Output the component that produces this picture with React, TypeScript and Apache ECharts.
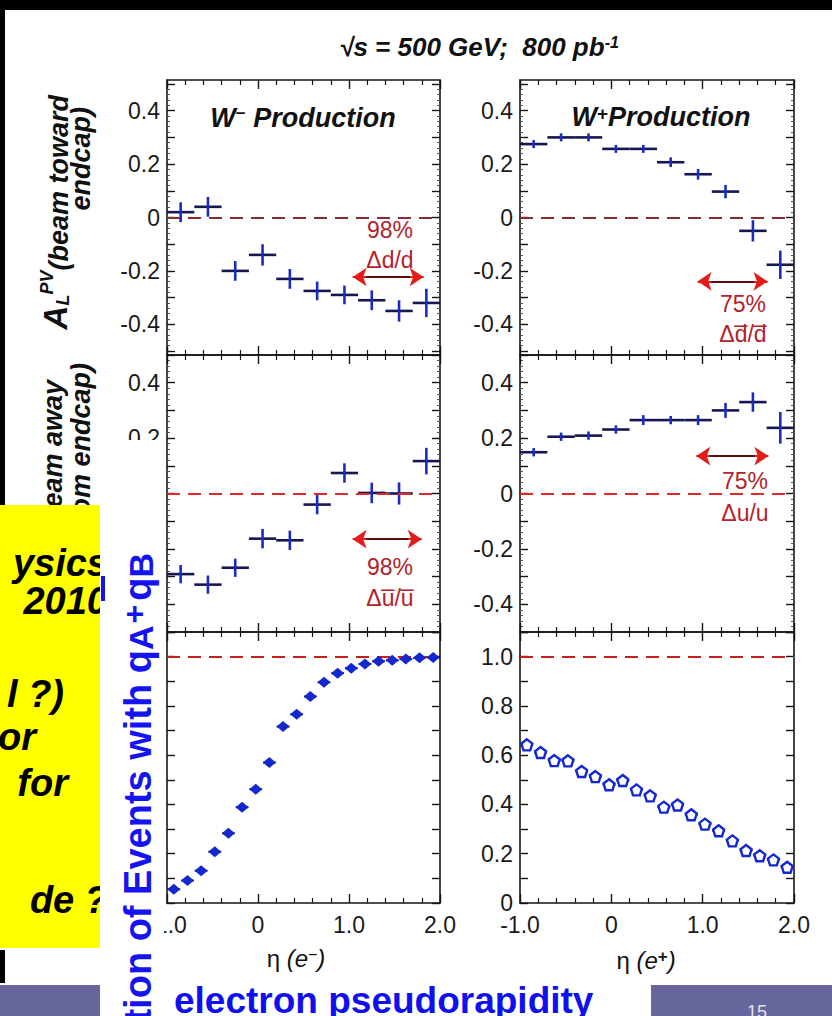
import { useEffect, useRef } from 'react';
import * as echarts from 'echarts';

// ---------- data ----------
const etaCoarse = [-0.85, -0.55, -0.25, 0.05, 0.35, 0.65, 0.95, 1.25, 1.55, 1.85];
const coarseHalfWidth = 0.15;

const wMinusToward = [0.02, 0.04, -0.2, -0.14, -0.23, -0.275, -0.29, -0.31, -0.35, -0.32];
const wMinusTowardErr = [0.037, 0.037, 0.037, 0.04, 0.037, 0.035, 0.035, 0.037, 0.04, 0.053];
const wPlusToward = [0.275, 0.3, 0.3, 0.257, 0.257, 0.207, 0.162, 0.097, -0.05, -0.177];
const wPlusTowardErr = [0.015, 0.015, 0.015, 0.015, 0.015, 0.018, 0.02, 0.025, 0.04, 0.053];

const wMinusAway = [-0.291, -0.329, -0.268, -0.163, -0.169, -0.04, 0.074, 0.002, 0.0, 0.117];
const wMinusAwayErr = [0.033, 0.033, 0.033, 0.035, 0.035, 0.035, 0.035, 0.037, 0.04, 0.048];
const wPlusAway = [0.149, 0.205, 0.209, 0.231, 0.265, 0.265, 0.265, 0.3, 0.33, 0.237];
const wPlusAwayErr = [0.015, 0.015, 0.015, 0.015, 0.018, 0.015, 0.018, 0.027, 0.035, 0.057];

const etaFine = [-0.925, -0.775, -0.625, -0.475, -0.325, -0.175, -0.025, 0.125, 0.275, 0.425,
  0.575, 0.725, 0.875, 1.025, 1.175, 1.325, 1.475, 1.625, 1.775, 1.925];
const fineHalfWidth = 0.07;
const fracWMinus = [0.056, 0.091, 0.131, 0.208, 0.283, 0.389, 0.462, 0.57, 0.716, 0.766,
  0.838, 0.896, 0.933, 0.953, 0.97, 0.981, 0.985, 0.99, 0.995, 0.997];
const fracWPlus = [0.642, 0.611, 0.578, 0.577, 0.534, 0.513, 0.48, 0.497, 0.459, 0.435,
  0.389, 0.398, 0.358, 0.32, 0.293, 0.252, 0.213, 0.192, 0.175, 0.145];

// ---------- ticks / labels ----------
const etaTicks = [-1, 0, 1, 2];
const etaMinorTicks = [-0.8, -0.6, -0.4, -0.2, 0.2, 0.4, 0.6, 0.8, 1.2, 1.4, 1.6, 1.8];
const asymTicks = [-0.5, -0.4, -0.3, -0.2, -0.1, 0, 0.1, 0.2, 0.3, 0.4, 0.5];
const asymLabels = [-0.4, -0.2, 0, 0.2, 0.4];
const fracTicks = [0, 0.1, 0.2, 0.3, 0.4, 0.5, 0.6, 0.7, 0.8, 0.9, 1.0, 1.1];
const fracLabels = [0, 0.2, 0.4, 0.6, 0.8, 1.0];
const asymMinorTicks: number[] = [];
for (let k = -25; k <= 25; k++) if (k % 5 !== 0) asymMinorTicks.push(k * 0.02);

const FONT = "'Liberation Sans', Arial, Helvetica, sans-serif";
const AX = '#151515';
const fmt = (v: number) => (Math.abs(v) < 1e-9 ? '0' : v.toFixed(1));

const crossData = (values: number[], errs: number[]) =>
  etaCoarse.map((x, i) => [x, values[i], x - coarseHalfWidth, x + coarseHalfWidth, values[i] - errs[i], values[i] + errs[i]]);
const barData = (values: number[]) =>
  etaFine.map((x, i) => [x, values[i], x - fineHalfWidth, x + fineHalfWidth, values[i], values[i]]);

const renderCross = (hColor: string, vColor: string, lw: number) => (_p: any, api: any) => {
  const x = api.value(0);
  const y = api.value(1);
  const L = api.coord([api.value(2), y]);
  const R = api.coord([api.value(3), y]);
  const T = api.coord([x, api.value(5)]);
  const B = api.coord([x, api.value(4)]);
  const children: any[] = [
    { type: 'line', shape: { x1: L[0], y1: L[1], x2: R[0], y2: R[1] }, style: { stroke: hColor, lineWidth: lw } },
  ];
  if (Math.abs(T[1] - B[1]) > 0.5) {
    children.push({ type: 'line', shape: { x1: T[0], y1: T[1], x2: B[0], y2: B[1] }, style: { stroke: vColor, lineWidth: lw } });
  }
  return { type: 'group', children };
};

function buildOption() {
  const panels = [
    { left: 167, top: 80, width: 273, height: 275, yMin: -0.515, yMax: 0.515, yTicks: asymTicks, yLabels: asymLabels, yMinor: asymMinorTicks, xLabels: false },
    { left: 520, top: 80, width: 274, height: 275, yMin: -0.515, yMax: 0.515, yTicks: asymTicks, yLabels: asymLabels, yMinor: asymMinorTicks, xLabels: false },
    { left: 167, top: 355, width: 273, height: 277, yMin: -0.5, yMax: 0.5, yTicks: asymTicks, yLabels: asymLabels, yMinor: asymMinorTicks, xLabels: false },
    { left: 520, top: 355, width: 274, height: 277, yMin: -0.5, yMax: 0.5, yTicks: asymTicks, yLabels: asymLabels, yMinor: asymMinorTicks, xLabels: false },
    { left: 167, top: 632, width: 273, height: 271, yMin: 0, yMax: 1.1, yTicks: fracTicks, yLabels: fracLabels, yMinor: [] as number[], xLabels: true },
    { left: 520, top: 632, width: 274, height: 271, yMin: 0, yMax: 1.1, yTicks: fracTicks, yLabels: fracLabels, yMinor: [] as number[], xLabels: true },
  ];
  const grid = panels.map((p) => ({ left: p.left, top: p.top, width: p.width, height: p.height, containLabel: false }));
  const labelStyle = { fontSize: 23, color: '#1a1a1a', fontFamily: FONT };
  const xAxis: any[] = [];
  const yAxis: any[] = [];
  panels.forEach((p, g) => {
    const bx = { type: 'value', gridIndex: g, min: -1, max: 2, splitLine: { show: false } };
    const line = { show: true, onZero: false, lineStyle: { color: AX, width: 1.6 } };
    const noLine = { show: false, onZero: false };
    for (const pos of ['bottom', 'top']) {
      xAxis.push({
        ...bx, position: pos, axisLine: line,
        axisTick: { show: true, inside: true, length: 9, customValues: etaTicks, lineStyle: { color: AX, width: 1.4 } },
        axisLabel: pos === 'bottom' && p.xLabels
          ? { show: true, customValues: etaTicks, formatter: fmt, margin: 10, ...labelStyle }
          : { show: false },
      });
      xAxis.push({
        ...bx, position: pos, axisLine: noLine,
        axisTick: { show: true, inside: true, length: 5, customValues: etaMinorTicks, lineStyle: { color: AX, width: 1.2 } },
        axisLabel: { show: false },
      });
    }
    const by = { type: 'value', gridIndex: g, min: p.yMin, max: p.yMax, splitLine: { show: false } };
    for (const pos of ['left', 'right']) {
      yAxis.push({
        ...by, position: pos, axisLine: line,
        axisTick: { show: true, inside: true, length: 8, customValues: p.yTicks, lineStyle: { color: AX, width: 1.4 } },
        axisLabel: pos === 'left'
          ? { show: true, customValues: p.yLabels, formatter: fmt, margin: 7, ...labelStyle }
          : { show: false },
      });
      yAxis.push({
        ...by, position: pos, axisLine: noLine,
        axisTick: { show: p.yMinor.length > 0, inside: true, length: 3, customValues: p.yMinor.length ? p.yMinor : [0], lineStyle: { color: '#555', width: 1 } },
        axisLabel: { show: false },
      });
    }
  });

  const dashed = (y: number, color: string) => ({
    silent: true, symbol: ['none', 'none'], label: { show: false },
    lineStyle: { type: [13, 8], color, width: 2 }, data: [{ yAxis: y }],
  });
  const arrow = (g: number, x1: number, x2: number, y: number) => ({
    type: 'line', xAxisIndex: 4 * g, yAxisIndex: 4 * g, data: [], silent: true,
    markLine: {
      silent: true, label: { show: false }, symbol: ['arrow', 'arrow'], symbolSize: 14,
      lineStyle: { type: 'solid', color: '#e41b1b', width: 2 },
      data: [
        [{ coord: [x1, y] }, { coord: [x2, y] }],
        [{ coord: [x1 + 0.15, y], symbol: 'none', lineStyle: { color: '#2a0808', width: 1.6, type: 'solid' } }, { coord: [x2 - 0.15, y], symbol: 'none' }],
      ],
    },
  });
  const cross = (g: number, values: number[], errs: number[], dashColor: string) => ({
    type: 'custom', xAxisIndex: 4 * g, yAxisIndex: 4 * g, clip: true,
    encode: { x: [0, 2, 3], y: [1, 4, 5] },
    renderItem: renderCross('#161650', '#1a2cc0', 2.6),
    data: crossData(values, errs),
    markLine: dashed(0, dashColor),
  });
  const fineBars = (g: number, values: number[]) => ({
    type: 'custom', xAxisIndex: 4 * g, yAxisIndex: 4 * g, clip: true,
    encode: { x: [0, 2, 3], y: [1, 4, 5] },
    renderItem: renderCross('#18184a', '#18184a', 2),
    data: barData(values),
    markLine: dashed(1, '#c81e1e'),
  });

  const series: any[] = [
    cross(0, wMinusToward, wMinusTowardErr, '#8a2a32'),
    cross(1, wPlusToward, wPlusTowardErr, '#8a2a32'),
    cross(2, wMinusAway, wMinusAwayErr, '#e02828'),
    cross(3, wPlusAway, wPlusAwayErr, '#e02828'),
    fineBars(4, fracWMinus),
    fineBars(5, fracWPlus),
    {
      type: 'scatter', xAxisIndex: 16, yAxisIndex: 16, z: 5, symbol: 'diamond', symbolSize: [13, 11],
      itemStyle: { color: '#1428d0', opacity: 1 }, data: etaFine.map((x, i) => [x, fracWMinus[i]]),
    },
    {
      type: 'scatter', xAxisIndex: 20, yAxisIndex: 20, z: 5,
      symbol: 'path://M0,-1 L0.951,-0.309 L0.588,0.809 L-0.588,0.809 L-0.951,-0.309 Z', symbolSize: 11,
      itemStyle: { color: '#ffffff', borderColor: '#1428d0', borderWidth: 2.4, opacity: 1 },
      data: etaFine.map((x, i) => [x, fracWPlus[i]]),
    },
    arrow(0, 1.04, 1.82, -0.223),
    arrow(1, 0.945, 1.71, -0.239),
    arrow(2, 1.04, 1.8, -0.165),
    arrow(3, 0.93, 1.72, 0.135),
  ];

  const annoStyle = { fontSize: 23, fill: '#b3222a', fontFamily: FONT, align: 'center', verticalAlign: 'middle' };
  const annotations = [
    { x: 390, y: 230, t: '98%' }, { x: 390, y: 260, t: 'Δd/d' },
    { x: 743, y: 304, t: '75%' }, { x: 743, y: 334, t: 'Δd\u0305/d\u0305' },
    { x: 390, y: 567, t: '98%' }, { x: 390, y: 598, t: 'Δu\u0305/u\u0305' },
    { x: 745, y: 481, t: '75%' }, { x: 745, y: 513, t: 'Δu/u' },
  ];
  const boldItalic = { fontWeight: 'bold', fontStyle: 'italic', fontFamily: FONT, fill: '#111' };
  const bi = { fontWeight: 'bold', fontStyle: 'italic', fontFamily: FONT, fill: '#111' };
  const rowTitleRich = {
    a: { fontSize: 33, ...bi, verticalAlign: 'bottom', lineHeight: 34 },
    l: { fontSize: 18, ...bi, verticalAlign: 'bottom', lineHeight: 34 },
    p: { fontSize: 18, ...bi, verticalAlign: 'top', lineHeight: 34 },
    t: { fontSize: 27, ...bi, verticalAlign: 'bottom', lineHeight: 32 },
  };
  const yellowText = { fontSize: 38, ...boldItalic, fill: '#000', align: 'right', verticalAlign: 'middle' };
  const blue = '#1414f0';
  const blueTok = { fontWeight: 'bold', fontFamily: FONT, fill: blue };

  const graphic: any[] = [
    // slide background bits
    { type: 'rect', z: 20, shape: { x: 0, y: 0, width: 832, height: 10 }, style: { fill: '#000' } },
    { type: 'rect', z: 20, shape: { x: 0, y: 0, width: 5, height: 505 }, style: { fill: '#000' } },
    // title
    {
      type: 'text', z: 5, x: 479, y: 47,
      style: {
        text: '√s = 500 GeV;  800 pb{sup|-1}', fontSize: 26, ...boldItalic, align: 'center', verticalAlign: 'middle',
        rich: { sup: { fontSize: 16, ...bi, verticalAlign: 'top' } },
      },
    },
    // panel titles
    {
      type: 'text', z: 5, x: 303, y: 118,
      style: {
        text: 'W{sup|−} Production', fontSize: 27, ...boldItalic, align: 'center', verticalAlign: 'middle',
        rich: { sup: { fontSize: 17, fontWeight: 'bold', fontFamily: FONT, fill: '#111', verticalAlign: 'top' } },
      },
    },
    {
      type: 'text', z: 5, x: 661, y: 117,
      style: {
        text: 'W{sup|+}Production', fontSize: 27, ...boldItalic, align: 'center', verticalAlign: 'middle',
        rich: { sup: { fontSize: 19, fontWeight: 'bold', fontFamily: FONT, fill: '#111', verticalAlign: 'top' } },
      },
    },
    // y titles (rotated)
    {
      type: 'text', z: 1, x: 72, y: 95, rotation: Math.PI / 2,
      style: { text: '{a|A}{l|L}{p|PV}{t|(beam toward}', align: 'right', verticalAlign: 'bottom', rich: rowTitleRich },
    },
    {
      type: 'text', z: 1, x: 94, y: 107, rotation: Math.PI / 2,
      style: { text: 'endcap)', fontSize: 27, ...boldItalic, align: 'right', verticalAlign: 'bottom' },
    },
    {
      type: 'text', z: 1, x: 66, y: 380, rotation: Math.PI / 2,
      style: { text: '{a|A}{l|L}{p|PV}{t|(beam away}', align: 'right', verticalAlign: 'bottom', rich: rowTitleRich },
    },
    {
      type: 'text', z: 1, x: 94, y: 363, rotation: Math.PI / 2,
      style: { text: 'from endcap)', fontSize: 27, ...boldItalic, align: 'right', verticalAlign: 'bottom' },
    },
    // x titles
    {
      type: 'text', z: 5, x: 296, y: 958,
      style: {
        text: '{n|η }{i|(e}{s|−}{i|)}', align: 'center', verticalAlign: 'middle',
        rich: {
          n: { fontSize: 24, fontFamily: FONT, fill: '#111' },
          i: { fontSize: 24, fontStyle: 'italic', fontFamily: FONT, fill: '#111' },
          s: { fontSize: 16, fontFamily: FONT, fill: '#111', verticalAlign: 'top' },
        },
      },
    },
    {
      type: 'text', z: 5, x: 646, y: 960,
      style: {
        text: '{n|η }{i|(e}{s|+}{i|)}', align: 'center', verticalAlign: 'middle',
        rich: {
          n: { fontSize: 24, fontFamily: FONT, fill: '#111' },
          i: { fontSize: 24, fontStyle: 'italic', fontFamily: FONT, fill: '#111' },
          s: { fontSize: 17, fontWeight: 'bold', fontFamily: FONT, fill: '#111', verticalAlign: 'top' },
        },
      },
    },
    ...annotations.map((a) => ({ type: 'text', z: 6, x: a.x, y: a.y, style: { text: a.t, ...annoStyle } })),
    // yellow box from the slide
    { type: 'rect', z: 8, shape: { x: 0, y: 505, width: 100, height: 443 }, style: { fill: '#ffff00' } },
    { type: 'text', z: 9, x: 108, y: 563, style: { text: 'ysics', ...yellowText } },
    { type: 'text', z: 9, x: 108, y: 601, style: { text: '2010', ...yellowText } },
    { type: 'text', z: 9, x: 64, y: 694, style: { text: 'l ?)', ...yellowText } },
    { type: 'text', z: 9, x: 36, y: 737, style: { text: 'or', ...yellowText } },
    { type: 'text', z: 9, x: 68, y: 783, style: { text: 'for', ...yellowText } },
    { type: 'text', z: 9, x: 108, y: 900, style: { text: 'de ?', ...yellowText } },
    { type: 'rect', z: 9, shape: { x: 0, y: 950, width: 5, height: 33 }, style: { fill: '#000' } },
    // white text box of the rotated blue label
    { type: 'rect', z: 10, shape: { x: 100, y: 440, width: 64, height: 576 }, style: { fill: '#ffffff' } },
    { type: 'rect', z: 11, shape: { x: 101, y: 576, width: 4, height: 25 }, style: { fill: blue } },
    {
      type: 'text', z: 11, x: 158, y: 553, rotation: Math.PI / 2,
      style: {
        text: 'Fraction of Events with q{sub|A}{p|+}q{sub|B}', align: 'right', verticalAlign: 'bottom',
        fontSize: 38, fontWeight: 'bold', fontFamily: FONT, fill: blue,
        rich: {
          sub: { fontSize: 34, ...blueTok, verticalAlign: 'bottom', lineHeight: 22 },
          p: { fontSize: 32, ...blueTok, verticalAlign: 'top', lineHeight: 40, padding: [0, 4, 0, 2] },
        },
      },
    },
    // bottom slide bar
    { type: 'rect', z: 12, shape: { x: 0, y: 985, width: 100, height: 31 }, style: { fill: '#66669c' } },
    { type: 'rect', z: 12, shape: { x: 651, y: 985, width: 181, height: 31 }, style: { fill: '#66669c' } },
    { type: 'text', z: 13, x: 757, y: 1012, style: { text: '15', fontSize: 18, fontFamily: FONT, fill: '#e2e2e2', align: 'center', verticalAlign: 'middle' } },
    {
      type: 'text', z: 13, x: 174, y: 1000,
      style: { text: 'electron pseudorapidity', fontSize: 37, fontWeight: 'bold', fontFamily: FONT, fill: '#1010ee', align: 'left', verticalAlign: 'middle' },
    },
  ];

  return {
    animation: false,
    backgroundColor: '#ffffff',
    grid, xAxis, yAxis, series, graphic,
  };
}

export default function App() {
  const ref = useRef<HTMLDivElement>(null);
  useEffect(() => {
    document.body.style.margin = '0';
    const chart = echarts.init(ref.current!, null, { renderer: 'svg' });
    chart.setOption(buildOption() as any);
    return () => chart.dispose();
  }, []);
  return <div ref={ref} style={{ width: 832, height: 1016, background: '#fff' }} />;
}
